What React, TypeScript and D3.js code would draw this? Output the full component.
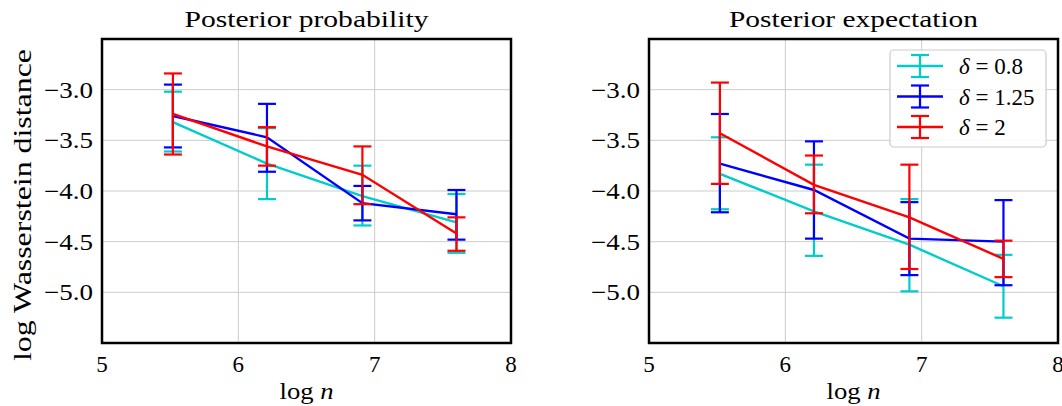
import React from "react";
import * as d3 from "d3";

const xValues = [5.52, 6.21, 6.91, 7.6];
const seriesLabels = ["0.8", "1.25", "2"];
const seriesColors = ["#00cccc", "#0000ff", "#ff0000"];

// Left: Posterior probability
const probMean = [
  [-3.32, -3.73, -4.05, -4.31],
  [-3.26, -3.47, -4.12, -4.23],
  [-3.24, -3.56, -3.84, -4.42],
];
const probLow = [
  [-3.61, -4.08, -4.34, -4.61],
  [-3.57, -3.81, -4.29, -4.48],
  [-3.64, -3.75, -4.13, -4.59],
];
const probHigh = [
  [-3.02, -3.38, -3.75, -4.03],
  [-2.95, -3.14, -3.95, -3.99],
  [-2.84, -3.37, -3.56, -4.26],
];

// Right: Posterior expectation
const expMean = [
  [-3.83, -4.2, -4.53, -4.94],
  [-3.73, -3.99, -4.47, -4.5],
  [-3.43, -3.94, -4.26, -4.67],
];
const expLow = [
  [-4.18, -4.64, -4.99, -5.25],
  [-4.21, -4.47, -4.83, -4.93],
  [-3.93, -4.22, -4.77, -4.85],
];
const expHigh = [
  [-3.47, -3.74, -4.08, -4.63],
  [-3.24, -3.51, -4.11, -4.09],
  [-2.93, -3.65, -3.74, -4.49],
];

const xTicks = [5, 6, 7, 8];
const yTicks = [-3.0, -3.5, -4.0, -4.5, -5.0];

const FONT = "'Liberation Serif', 'DejaVu Serif', serif";

type PanelProps = {
  left: number;
  title: string;
  titleWidth: number;
  mean: number[][];
  low: number[][];
  high: number[][];
  showYLabel: boolean;
  showLegend: boolean;
};

const TOP = 39;
const BOTTOM = 343;
const WIDTH = 409;

function Panel({ left, title, titleWidth, mean, low, high, showYLabel, showLegend }: PanelProps) {
  const x = d3.scaleLinear().domain([5, 8]).range([left, left + WIDTH]);
  const y = d3.scaleLinear().domain([-5.5, -2.5]).range([BOTTOM, TOP]);
  const line = d3
    .line<number>()
    .x((_, i) => x(xValues[i]))
    .y((d) => y(d));
  const cap = 9;
  const fmt = (v: number) => (v < 0 ? "\u2212" : "") + Math.abs(v).toFixed(1);
  return (
    <g>
      {xTicks.map((t) => (
        <line key={"gx" + t} x1={x(t)} x2={x(t)} y1={TOP} y2={BOTTOM} stroke="#cccccc" strokeWidth={1} />
      ))}
      {yTicks.map((t) => (
        <line key={"gy" + t} x1={left} x2={left + WIDTH} y1={y(t)} y2={y(t)} stroke="#cccccc" strokeWidth={1} />
      ))}
      {mean.map((s, si) => (
        <g key={"s" + si}>
          {s.map((_, i) => (
            <g key={i} stroke={seriesColors[si]} strokeWidth={2.2}>
              <line x1={x(xValues[i])} x2={x(xValues[i])} y1={y(low[si][i])} y2={y(high[si][i])} />
              <line x1={x(xValues[i]) - cap} x2={x(xValues[i]) + cap} y1={y(low[si][i])} y2={y(low[si][i])} />
              <line x1={x(xValues[i]) - cap} x2={x(xValues[i]) + cap} y1={y(high[si][i])} y2={y(high[si][i])} />
            </g>
          ))}
          <path d={line(s) || ""} fill="none" stroke={seriesColors[si]} strokeWidth={2.4} />
        </g>
      ))}
      <rect x={left} y={TOP} width={WIDTH} height={BOTTOM - TOP} fill="none" stroke="#000" strokeWidth={2.5} />
      {xTicks.map((t) => (
        <text key={"tx" + t} x={x(t)} y={372} textAnchor="middle" fontSize={23} fontFamily={FONT}>
          {t}
        </text>
      ))}
      {yTicks.map((t) => (
        <text
          key={"ty" + t}
          x={left - 9}
          y={y(t) + 8}
          textAnchor="end"
          fontSize={23}
          fontFamily={FONT}
          textLength={49}
          lengthAdjust="spacingAndGlyphs"
        >
          {fmt(t)}
        </text>
      ))}
      <text
        x={left + WIDTH / 2}
        y={27}
        textAnchor="middle"
        fontSize={24}
        fontFamily={FONT}
        textLength={titleWidth}
        lengthAdjust="spacingAndGlyphs"
      >
        {title}
      </text>
      <text
        x={left + WIDTH / 2}
        y={399}
        textAnchor="middle"
        fontSize={24}
        fontFamily={FONT}
        textLength={54}
        lengthAdjust="spacingAndGlyphs"
      >
        log <tspan fontStyle="italic">n</tspan>
      </text>
      {showYLabel && (
        <text
          transform={`translate(31, 205) rotate(-90)`}
          textAnchor="middle"
          fontSize={25}
          fontFamily={FONT}
          textLength={312}
          lengthAdjust="spacingAndGlyphs"
        >
          log Wasserstein distance
        </text>
      )}
      {showLegend && (
        <g>
          <rect x={890} y={50} width={156} height={97} rx={4} fill="#ffffff" fillOpacity={0.85} stroke="#cccccc" strokeWidth={1.2} />
          {seriesLabels.map((lab, i) => {
            const cy = 66 + i * 30.5;
            return (
              <g key={lab}>
                <g stroke={seriesColors[i]} strokeWidth={2.2}>
                  <line x1={897} x2={943} y1={cy} y2={cy} strokeWidth={2.4} />
                  <line x1={920} x2={920} y1={cy - 11} y2={cy + 11} />
                  <line x1={911} x2={929} y1={cy - 11} y2={cy - 11} />
                  <line x1={911} x2={929} y1={cy + 11} y2={cy + 11} />
                </g>
                <text x={959} y={cy + 8} fontSize={23} fontFamily={FONT}>
                  <tspan fontStyle="italic">δ</tspan> = {lab}
                </text>
              </g>
            );
          })}
        </g>
      )}
    </g>
  );
}

export default function App() {
  return (
    <svg width={1062} height={406} style={{ position: "absolute", left: 0, top: 0, background: "#fff" }}>
      <rect x={0} y={0} width={1062} height={406} fill="#fff" />
      <Panel left={102} title="Posterior probability" titleWidth={244} mean={probMean} low={probLow} high={probHigh} showYLabel={true} showLegend={false} />
      <Panel left={649} title="Posterior expectation" titleWidth={249} mean={expMean} low={expLow} high={expHigh} showYLabel={false} showLegend={true} />
    </svg>
  );
}
